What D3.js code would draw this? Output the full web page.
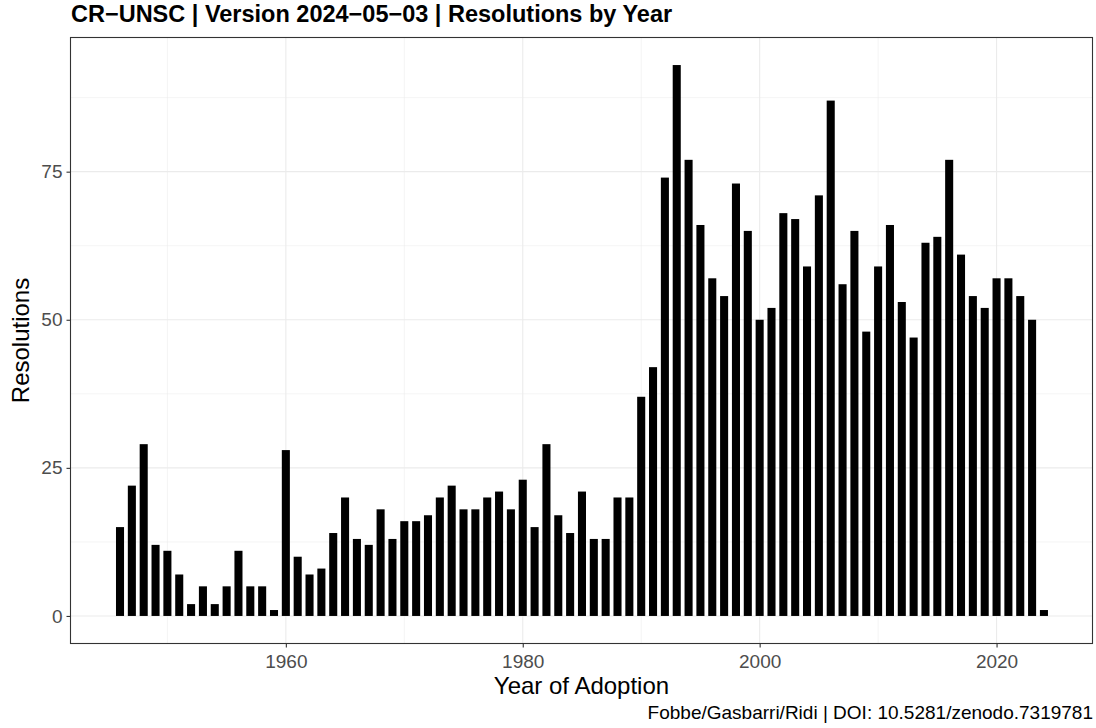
<!DOCTYPE html>
<html><head><meta charset="utf-8">
<script src="https://cdn.jsdelivr.net/npm/d3@7"></script>
<style>
body{margin:0;background:#fff;}
svg{display:block;font-family:"Liberation Sans",Arial,Helvetica,sans-serif;}
</style></head>
<body>
<svg id="chart" width="1096" height="728"></svg>
<script>
const years = d3.range(1946, 2025);
const resolutions = [15,22,29,12,11,7,2,5,2,5,11,5,5,1,28,10,7,8,14,20,13,12,18,13,16,16,17,20,22,18,18,20,21,18,23,15,29,17,14,21,13,13,20,20,37,42,74,93,77,66,57,54,73,65,50,52,68,67,59,71,87,56,65,48,59,66,53,47,63,64,77,61,54,52,57,57,54,50,1];
const xTicks = [1960,1980,2000,2020];
const xMinor = [1950,1970,1990,2010];
const yTicks = [0,25,50,75];
const yMinor = [12.5,37.5,62.5,87.5];
const titleText = "CR\u2212UNSC | Version 2024\u221205\u221203 | Resolutions by Year";
const xTitle = "Year of Adoption";
const yTitle = "Resolutions";
const caption = "Fobbe/Gasbarri/Ridi | DOI: 10.5281/zenodo.7319781";

const data = years.map((y,i)=>({year:y, n:resolutions[i]}));
const svg = d3.select("#chart");
const P = {left:70.5, right:1092.5, top:37.5, bottom:643.5};

const maxV = d3.max(resolutions);
const x = d3.scaleLinear().domain([1941.82, 2028.1]).range([P.left, P.right]);
const y = d3.scaleLinear().domain([-maxV*0.05, maxV*1.05]).range([P.bottom, P.top]);
const barW = 0.68;

svg.append("rect").attr("x",0).attr("y",0).attr("width",1096).attr("height",728).attr("fill","#fff");

const g = svg.append("g");
g.selectAll(".ymin").data(yMinor).join("line")
  .attr("x1",P.left).attr("x2",P.right).attr("y1",d=>y(d)).attr("y2",d=>y(d))
  .attr("stroke","#EBEBEB").attr("stroke-width",0.55);
g.selectAll(".xmin").data(xMinor).join("line")
  .attr("y1",P.top).attr("y2",P.bottom).attr("x1",d=>x(d)).attr("x2",d=>x(d))
  .attr("stroke","#EBEBEB").attr("stroke-width",0.55);
g.selectAll(".ymaj").data(yTicks).join("line")
  .attr("x1",P.left).attr("x2",P.right).attr("y1",d=>y(d)).attr("y2",d=>y(d))
  .attr("stroke","#EBEBEB").attr("stroke-width",1.1);
g.selectAll(".xmaj").data(xTicks).join("line")
  .attr("y1",P.top).attr("y2",P.bottom).attr("x1",d=>x(d)).attr("x2",d=>x(d))
  .attr("stroke","#EBEBEB").attr("stroke-width",1.1);

g.selectAll(".bar").data(data).join("rect")
  .attr("x",d=>x(d.year - barW/2)).attr("width",x(barW)-x(0))
  .attr("y",d=>y(d.n)).attr("height",d=>y(0)-y(d.n))
  .attr("fill","#000");

svg.append("rect").attr("x",P.left).attr("y",P.top)
  .attr("width",P.right-P.left).attr("height",P.bottom-P.top)
  .attr("fill","none").attr("stroke","#333333").attr("stroke-width",1.1);

const xAxis = d3.axisBottom(x).tickValues(xTicks).tickFormat(d3.format("d")).tickSize(4).tickPadding(4);
const yAxis = d3.axisLeft(y).tickValues(yTicks).tickSize(4).tickPadding(4);
const gx = svg.append("g").attr("transform",`translate(0,${P.bottom})`).call(xAxis);
const gy = svg.append("g").attr("transform",`translate(${P.left},0)`).call(yAxis);
[gx,gy].forEach(a=>{
  a.select(".domain").remove();
  a.selectAll(".tick line").attr("stroke","#333333").attr("stroke-width",1.1);
  a.selectAll(".tick text").attr("fill","#4D4D4D").style("font-size","19px")
   .style("font-family","'Liberation Sans',Arial,sans-serif");
});
gx.selectAll(".tick text").attr("dy","0.85em");

svg.append("text").attr("x",71).attr("y",22).text(titleText)
  .style("font-size","23.5px").style("font-weight","bold").attr("fill","#000");
svg.append("text").attr("x",(P.left+P.right)/2).attr("y",694).attr("text-anchor","middle")
  .text(xTitle).style("font-size","24px").attr("fill","#000");
svg.append("text").attr("transform",`translate(29,${(P.top+P.bottom)/2}) rotate(-90)`)
  .attr("text-anchor","middle").text(yTitle).style("font-size","24px").attr("fill","#000");
svg.append("text").attr("x",1093).attr("y",719).attr("text-anchor","end")
  .text(caption).style("font-size","19px").attr("fill","#000");
</script>
</body></html>
